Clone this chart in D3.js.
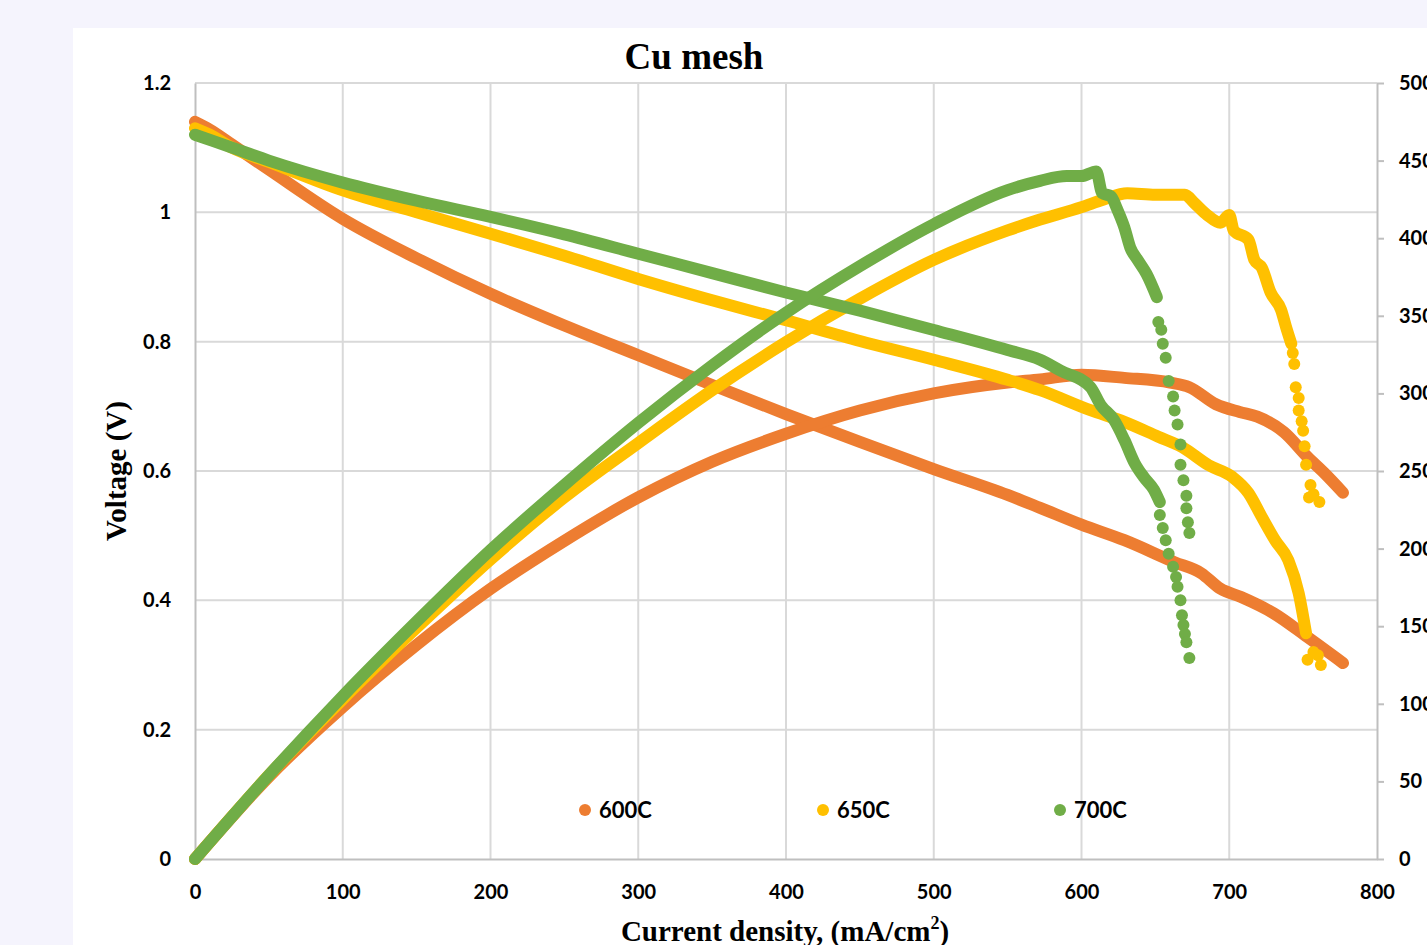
<!DOCTYPE html>
<html lang="en">
<head>
    <meta charset="UTF-8">
    <title>Cu mesh</title>
    <script src="https://cdn.jsdelivr.net/npm/d3@7"></script>
    <style>
        body{
            margin: 0;
            background: #f5f4fd;
        }
        svg{
            display: block;
        }
    </style>
</head>
<body>
</body>
<script type="text/javascript">

    // current density (mA/cm2) vs voltage (V) and power density (mW/cm2)
    let v600 = [[0,1.14],[10,1.128],[25,1.105],[50,1.066],[100,0.99],[150,0.929],[200,0.874],[250,0.825],[300,0.779],
                [350,0.733],[400,0.688],[450,0.645],[500,0.603],[550,0.563],[572,0.543],[600,0.517],[629,0.493],
                [663,0.459],[681,0.442],[694,0.418],[708,0.405],[730,0.38],[753,0.343],[777,0.303]];
    let p600 = [[0,0],[50,53],[100,98],[150,138],[200,174],[250,205],[300,233],[350,256],[400,274],[450,289],
                [500,300],[550,307],[572,309],[600,312],[629,310],[660,307],[673,304],[691,293],[707,288],
                [719,285],[737,275],[753,259],[764,249],[777,236]];

    let v650 = [[0,1.13],[10,1.12],[25,1.10],[50,1.078],[100,1.034],[150,1.0],[200,0.967],[250,0.933],[300,0.897],
                [350,0.864],[400,0.833],[450,0.801],[500,0.772],[550,0.741],[572,0.725],[606,0.694],[629,0.676],
                [652,0.653],[668,0.637],[686,0.609],[702,0.591],[713,0.566],[722,0.529],[731,0.493],[740,0.462],
                [747,0.411],[752,0.349]];
    let v650Tail = [[753,0.308],[757,0.32],[760,0.315],[762,0.30]];
    let p650 = [[0,0],[50,54],[100,103],[150,149],[200,193],[250,233],[300,268],[350,302],[400,333],[450,361],
                [500,386],[550,405],[572,412],[600,420],[615,425],[631,429],[650,428],[670,428],[676,423],
                [685,415],[694,410],[700,415],[703,405],[713,399],[717,386],[722,381],[728,365],[735,354],
                [739,341],[742,332]];
    let p650Tail = [[743,326],[744,319],[745,304],[747,297],[747,289],[749,282],[750,276],[751,266],[752,254],
                    [755,241],[757,235],[754,233],[761,230]];

    let v700 = [[0,1.12],[25,1.10],[50,1.08],[100,1.046],[150,1.018],[200,0.993],[250,0.966],[300,0.936],
                [350,0.906],[400,0.876],[450,0.848],[500,0.818],[550,0.787],[572,0.772],[586,0.755],[606,0.73],
                [613,0.702],[622,0.679],[629,0.648],[636,0.612],[642,0.591],[649,0.571],[653,0.552]];
    let v700Tail = [[653,0.532],[655,0.512],[657,0.493],[659,0.472],[662,0.452],[664,0.436],[665,0.421],
                    [667,0.40],[668,0.377],[669,0.362],[670,0.348],[671,0.335],[673,0.311]];
    let p700 = [[0,0],[50,54],[100,105],[150,153],[200,199],[250,241],[300,281],[350,318],[400,352],[450,382],
                [500,409],[550,431],[572,437],[590,440],[600,440],[610,443],[614,429],[620,427],[624,419],
                [629,407],[633,394],[638,386],[644,377],[651,362]];
    let p700Tail = [[652,346],[654,341],[655,332],[657,323],[659,308],[662,298],[663,289],[665,280],[667,267],
                    [667,254],[669,244],[671,234],[671,226],[672,217],[673,210]];

    let seriesNames = ["600C","650C","700C"];
    let colors = ["#ed7d31","#ffc000","#70ad47"];
    let xTicks = [0,100,200,300,400,500,600,700,800];
    let vTicks = [0,0.2,0.4,0.6,0.8,1,1.2];
    let pTicks = [0,50,100,150,200,250,300,350,400,450,500];

    let width = 1427;
    let height = 945;
    let plot = {left:195, right:1377, top:83, bottom:859};

    let svg = d3.select("body")
        .append("svg")
        .attr("width",width)
        .attr("height",height);

    // white chart panel
    svg.append("rect")
        .attr("x",73).attr("y",28)
        .attr("width",width-73).attr("height",height-28)
        .attr("fill","white");

    let x = d3.scaleLinear().domain([0,800]).range([plot.left,plot.right]);
    let yV = d3.scaleLinear().domain([0,1.2]).range([plot.bottom,plot.top]);
    let yP = d3.scaleLinear().domain([0,500]).range([plot.bottom,plot.top]);

    // grid
    let grid = svg.append("g").attr("stroke","#d9d9d9").attr("stroke-width",2);
    grid.selectAll(".hg").data(vTicks.slice(1)).join("line")
        .attr("x1",plot.left).attr("x2",plot.right)
        .attr("y1",d=>yV(d)).attr("y2",d=>yV(d));
    grid.selectAll(".vg").data(xTicks.slice(1,-1)).join("line")
        .attr("x1",d=>x(d)).attr("x2",d=>x(d))
        .attr("y1",plot.top).attr("y2",plot.bottom);

    let tickFont = (g)=>{
        g.selectAll("text")
            .attr("font-family","Lato, 'Open Sans', sans-serif")
            .attr("font-weight","bold")
            .attr("font-size",20)
            .attr("fill","#000");
        g.select(".domain").attr("stroke","#bfbfbf").attr("stroke-width",2);
        g.selectAll(".tick line").attr("stroke","#bfbfbf").attr("stroke-width",2);
    };

    let xAxis = d3.axisBottom(x).tickValues(xTicks).tickSize(0).tickPadding(26).tickSizeOuter(0);
    svg.append("g").attr("transform",`translate(0,${plot.bottom})`).call(xAxis).call(tickFont);

    let yAxis = d3.axisLeft(yV).tickValues(vTicks).tickSize(0).tickPadding(24).tickSizeOuter(0)
        .tickFormat(d=>String(Math.round(d*10)/10));
    svg.append("g").attr("transform",`translate(${plot.left},0)`).call(yAxis).call(tickFont);

    let y2Axis = d3.axisRight(yP).tickValues(pTicks).tickSize(7).tickPadding(15).tickSizeOuter(0);
    svg.append("g").attr("transform",`translate(${plot.right},0)`).call(y2Axis).call(tickFont);

    // series
    let line = (scale)=>d3.line()
        .x(d=>x(d[0]))
        .y(d=>scale(d[1]))
        .curve(d3.curveMonotoneX);

    let drawDense = (data,scale,color)=>{
        svg.append("path")
            .datum(data)
            .attr("fill","none")
            .attr("stroke",color)
            .attr("stroke-width",12)
            .attr("stroke-linecap","round")
            .attr("stroke-linejoin","round")
            .attr("d",line(scale));
    };
    let drawDots = (data,scale,color)=>{
        svg.append("g").selectAll("circle").data(data).join("circle")
            .attr("cx",d=>x(d[0]))
            .attr("cy",d=>scale(d[1]))
            .attr("r",6)
            .attr("fill",color);
    };

    let groups = [
        {v:v600, vt:[], p:p600, pt:[]},
        {v:v650, vt:v650Tail, p:p650, pt:p650Tail},
        {v:v700, vt:v700Tail, p:p700, pt:p700Tail}
    ];
    groups.forEach((s,i)=>{
        drawDense(s.v,yV,colors[i]);
        drawDots(s.vt,yV,colors[i]);
        drawDense(s.p,yP,colors[i]);
        drawDots(s.pt,yP,colors[i]);
    });

    // legend
    let legendX = [585,823,1060];
    let legend = svg.append("g");
    seriesNames.forEach((name,i)=>{
        legend.append("circle")
            .attr("cx",legendX[i]).attr("cy",810).attr("r",6)
            .attr("fill",colors[i]);
        legend.append("text")
            .attr("x",legendX[i]+14).attr("y",810)
            .attr("dy","0.36em")
            .attr("font-family","Lato, 'Open Sans', sans-serif")
            .attr("font-weight","bold")
            .attr("font-size",22)
            .text(name);
    });

    // titles
    svg.append("text")
        .attr("x",694).attr("y",69)
        .attr("text-anchor","middle")
        .attr("font-family","'Liberation Serif', 'Times New Roman', serif")
        .attr("font-weight","bold")
        .attr("font-size",37)
        .text("Cu mesh");

    svg.append("text")
        .attr("transform","translate(126,471) rotate(-90)")
        .attr("text-anchor","middle")
        .attr("font-family","'Liberation Serif', 'Times New Roman', serif")
        .attr("font-weight","bold")
        .attr("font-size",29)
        .text("Voltage (V)");

    let xTitle = svg.append("text")
        .attr("x",785).attr("y",941)
        .attr("text-anchor","middle")
        .attr("font-family","'Liberation Serif', 'Times New Roman', serif")
        .attr("font-weight","bold")
        .attr("font-size",29);
    xTitle.append("tspan").text("Current density, (mA/cm");
    xTitle.append("tspan").attr("font-size",18).attr("dy",-12).text("2");
    xTitle.append("tspan").attr("dy",12).text(")");

</script>
</html>
